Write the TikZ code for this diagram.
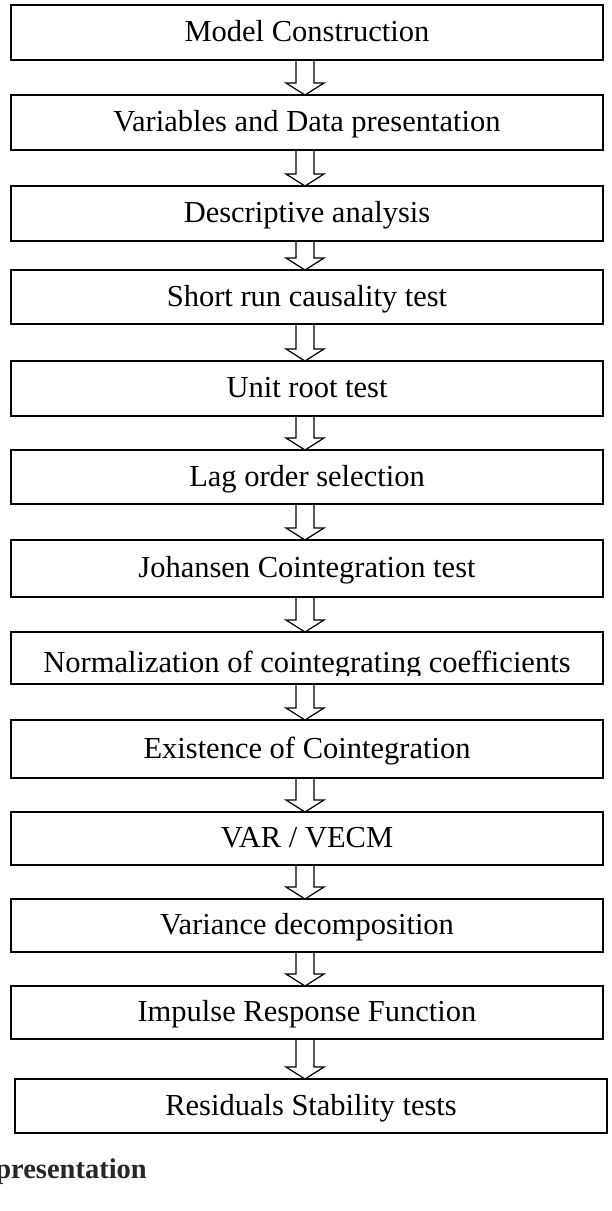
\documentclass[tikz,border=0pt]{standalone}
\usepackage{fontspec}
\setmainfont{Liberation Serif}
\usepackage{tikz}
\usetikzlibrary{calc}

\newcommand{\stagefont}{\fontsize{30.5}{36}\selectfont}

\begin{document}
\begin{tikzpicture}[x=1pt,y=-1pt,
  stage/.style={draw,line width=2pt,minimum width=592pt,inner sep=0pt,outer sep=0pt,
    font=\stagefont,text height=20pt,text depth=2pt},
  hollow/.style={draw,line width=1.2pt,line join=miter}]
\useasboundingbox (0,0) rectangle (611,1211);
\coordinate (axis) at (305,0);
% Stages of the analysis
\foreach \i/\x/\y/\h/\txt in {1/307/32.5/55/Model Construction,
  2/307/122.5/55/Variables and Data presentation,
  3/307/213.5/55/Descriptive analysis,
  4/307/297/54/Short run causality test,
  5/307/388.5/55/Unit root test,
  6/307/477/54/Lag order selection,
  7/307/568.5/57/Johansen Cointegration test,
  9/307/749/58/Existence of Cointegration,
  10/307/838.5/53/{VAR / VECM},
  11/307/925.5/53/Variance decomposition,
  12/307/1012.5/53/Impulse Response Function,
  13/311/1106/54/Residuals Stability tests} {
  \node[stage,minimum height=\h pt] (B\i) at (\x,\y) {\txt};
}
% this one has its text cut at the bottom
\node[stage,minimum height=52pt] (B8) at (307,658) {};
\begin{scope}
  \clip (B8.north west) rectangle ($(B8.south east)+(0,-9)$);
  \node[font=\stagefont,inner sep=0pt,anchor=base] (T8) at ($(B8.center)+(0,14)$)
    {Normalization of cointegrating coefficients};
\end{scope}
% hollow arrows between stages
\foreach \i [evaluate=\i as \j using int(\i+1)] in {1,...,12} {
  \coordinate (stem) at (B\i.south -| axis);
  \coordinate (tip) at (B\j.north -| axis);
  \draw[hollow] ($(stem)+(-9,0)$) -- ($(tip)+(-9,-12)$) -- ($(tip)+(-19,-12)$) -- (tip)
    -- ($(tip)+(19,-12)$) -- ($(tip)+(9,-12)$) -- ($(stem)+(9,0)$);
}
% caption, cut at the left edge
\node[font=\fontsize{28.5}{34}\selectfont\bfseries,text=black!85,inner sep=0pt,anchor=base east]
  (cap) at (147,1178) {presentation};
\end{tikzpicture}
\end{document}
